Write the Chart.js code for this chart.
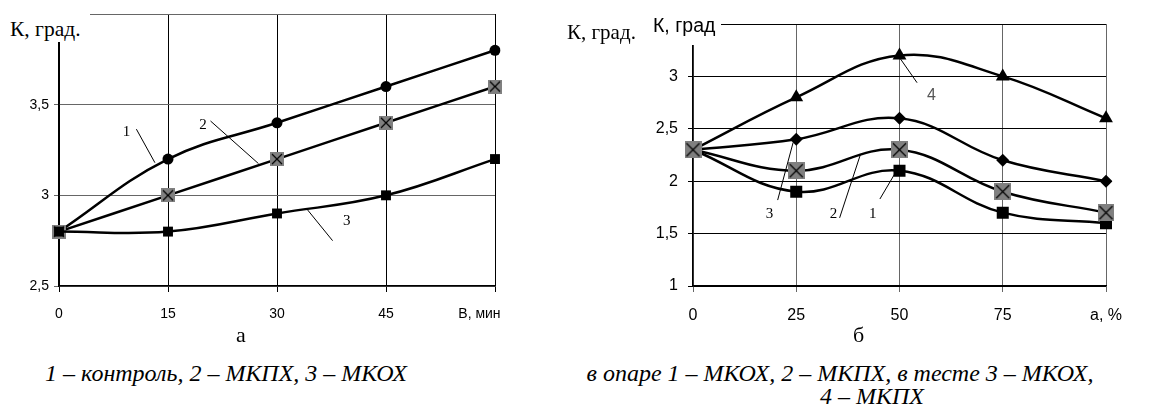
<!DOCTYPE html>
<html>
<head>
<meta charset="utf-8">
<script src="https://cdn.jsdelivr.net/npm/chart.js@4.4.1/dist/chart.umd.min.js"></script>
<style>
    body { margin: 0; background: #fff; width: 1156px; height: 409px; position: relative; overflow: hidden; }
    canvas { position: absolute; top: 0; }
    .txt { position: absolute; white-space: nowrap; color: #000; line-height: 1; }
    .serif { font-family: "Liberation Serif", "DejaVu Serif", serif; }
    .sans { font-family: "Liberation Sans", Arial, sans-serif; }
    .title { background: #fff; }
    .caption { font-family: "Liberation Serif", serif; font-style: italic; font-size: 24px; text-align: center; }
</style>
</head>
<body>
<canvas id="chartA" width="560" height="330" style="left:0"></canvas>
<canvas id="chartB" width="596" height="330" style="left:560px"></canvas>

<!-- axis titles (white boxes hide the frame behind them, like in the original) -->
<div class="txt serif title" style="left:0;top:0;width:90px;height:42px;"></div>
<div class="txt serif" style="left:10px;top:19px;font-size:21.5px;">К, град.</div>
<div class="txt title" style="left:645px;top:0;width:76px;height:45px;"></div>
<div class="txt serif" style="left:567px;top:22px;font-size:21px;">К, град.</div>
<div class="txt sans" style="left:653px;top:16px;font-size:19.5px;">К, град</div>

<div class="txt serif" style="left:236px;top:324px;font-size:22px;">а</div>
<div class="txt serif" style="left:853px;top:324px;font-size:22px;">б</div>

<div class="txt caption" style="left:26px;top:361px;width:400px;">1 – контроль, 2 – МКПХ, 3 – МКОХ</div>
<div class="txt caption" style="left:560px;top:361px;width:560px;">в опаре 1 – МКОХ, 2 – МКПХ, в тесте 3 – МКОХ,</div>
<div class="txt caption" style="left:760px;top:384px;width:224px;">4 – МКПХ</div>

<script>
// ---- Chart "а": K vs time ----
const labelsA = ['0', '15', '30', '45', 'В, мин'];
const controlA = [2.8, 3.2, 3.4, 3.6, 3.8];   // 1 – контроль
const mkpxA = [2.8, 3.0, 3.2, 3.4, 3.6];      // 2 – МКПХ
const mkoxA = [2.8, 2.8, 2.9, 3.0, 3.2];      // 3 – МКОХ

// ---- Chart "б": K vs dosage ----
const labelsB = ['0', '25', '50', '75', 'а, %'];
const opara1 = [2.3, 1.9, 2.1, 1.7, 1.6];     // 1 – МКОХ в опаре
const opara2 = [2.3, 2.1, 2.3, 1.9, 1.7];     // 2 – МКПХ в опаре
const testo3 = [2.3, 2.4, 2.6, 2.2, 2.0];     // 3 – МКОХ в тесте
const testo4 = [2.3, 2.8, 3.2, 3.0, 2.6];     // 4 – МКПХ в тесте

// Curve number labels with leader lines, in data units (category index, value)
const notesA = [
    { text: '1', at: [0.62, 3.35], from: [0.71, 3.365], to: [0.88, 3.18] },
    { text: '2', at: [1.32, 3.39], from: [1.39, 3.41], to: [1.83, 3.175] },
    { text: '3', at: [2.64, 2.86], from: [2.28, 2.92], to: [2.51, 2.75] }
];
const notesB = [
    { text: '4', at: [2.31, 2.82], from: [2.0, 3.18], to: [2.17, 2.94], sans: true },
    { text: '3', at: [0.74, 1.69], from: [0.82, 1.82], to: [0.97, 2.37] },
    { text: '2', at: [1.36, 1.69], from: [1.42, 1.65], to: [1.62, 2.25] },
    { text: '1', at: [1.74, 1.69], from: [1.81, 1.83], to: [1.96, 2.08] }
];

Chart.defaults.font.family = '"Liberation Sans", Arial, sans-serif';
Chart.defaults.color = '#000';

// gray square with a black X, as Excel draws it
function crossBox(size) {
    const c = document.createElement('canvas');
    c.width = size; c.height = size;
    const g = c.getContext('2d');
    g.fillStyle = '#808080';
    g.fillRect(0, 0, size, size);
    g.strokeStyle = '#000';
    g.lineWidth = 1.2;
    g.beginPath();
    g.moveTo(2, 2); g.lineTo(size - 2, size - 2);
    g.moveTo(size - 2, 2); g.lineTo(2, size - 2);
    g.stroke();
    return c;
}

function series(data, style, radius) {
    return {
        data: data,
        borderColor: '#000',
        borderWidth: 2.5,
        backgroundColor: '#000',
        pointStyle: style,
        pointRadius: radius,
        pointBorderWidth: 0,
        tension: 0.4,
        fill: false
    };
}

// draws the curve numbers and their leader lines
const notesPlugin = {
    id: 'notes',
    afterDatasetsDraw(chart, args, opts) {
        const ctx = chart.ctx;
        const xs = chart.scales.x, ys = chart.scales.y;
        ctx.save();
        opts.items.forEach(n => {
            ctx.strokeStyle = '#000';
            ctx.lineWidth = 1;
            ctx.beginPath();
            ctx.moveTo(xs.getPixelForValue(n.from[0]), ys.getPixelForValue(n.from[1]));
            ctx.lineTo(xs.getPixelForValue(n.to[0]), ys.getPixelForValue(n.to[1]));
            ctx.stroke();
            ctx.fillStyle = n.sans ? '#555' : '#000';
            ctx.font = n.sans ? '16px "Liberation Sans", Arial' : '15px "Liberation Serif", serif';
            ctx.textAlign = 'center';
            ctx.textBaseline = 'middle';
            ctx.fillText(n.text, xs.getPixelForValue(n.at[0]), ys.getPixelForValue(n.at[1]));
        });
        ctx.restore();
    }
};

function makeChart(id, labels, datasets, cfg) {
    return new Chart(document.getElementById(id), {
        type: 'line',
        data: { labels: labels, datasets: datasets },
        plugins: [notesPlugin],
        options: {
            responsive: false,
            devicePixelRatio: 1,
            animation: false,
            layout: { padding: { top: cfg.top, right: cfg.right, left: 0, bottom: 0 } },
            plugins: {
                legend: { display: false },
                tooltip: { enabled: false },
                notes: { items: cfg.notes }
            },
            scales: {
                x: {
                    type: 'category',
                    offset: false,
                    afterFit: s => { s.height = cfg.xHeight; },
                    grid: { color: cfg.xGrid, tickLength: 6, lineWidth: 1 },
                    border: { color: '#000', width: 1.5 },
                    ticks: {
                        font: { size: cfg.fontSize },
                        padding: cfg.xPad,
                        maxRotation: 0,
                        autoSkip: false,
                        // the last label is the axis title; Excel pulls it slightly inwards
                        callback: (v, i) => i === labels.length - 1
                            ? labels[i] + '\u00a0'.repeat(cfg.lastShift) : labels[i]
                    }
                },
                y: {
                    min: cfg.min,
                    max: cfg.max,
                    afterFit: s => { s.width = cfg.yWidth; },
                    grid: { color: cfg.yGrid, tickLength: 5, lineWidth: 1 },
                    border: { color: '#000', width: 1.5 },
                    ticks: {
                        stepSize: 0.5,
                        font: { size: cfg.fontSize },
                        padding: cfg.yPad,
                        callback: v => v >= cfg.max ? '' : String(v).replace('.', ',')
                    }
                }
            }
        }
    });
}

const boxA = crossBox(14);
const boxB = crossBox(17);

makeChart('chartA', labelsA, [
    series(mkoxA, 'rect', 7),
    series(mkpxA, boxA, 7),
    series(controlA, 'circle', 5.5)
], { top: 14, right: 65, xHeight: 44, yWidth: 59, min: 2.5, max: 4, lastShift: 8,
     xGrid: '#000', yGrid: '#666', fontSize: 14, xPad: 14, yPad: 5, notes: notesA });

makeChart('chartB', labelsB, [
    series(opara2, boxB, 8),
    series(opara1, 'rect', 8.5),
    series(testo3, 'rectRot', 6.5),
    series(testo4, 'triangle', 8)
], { top: 24, right: 50, xHeight: 44, yWidth: 133, min: 1, max: 3.5, lastShift: 0,
     xGrid: '#666', yGrid: '#000', fontSize: 16, xPad: 14, yPad: 10, notes: notesB });
</script>
</body>
</html>
